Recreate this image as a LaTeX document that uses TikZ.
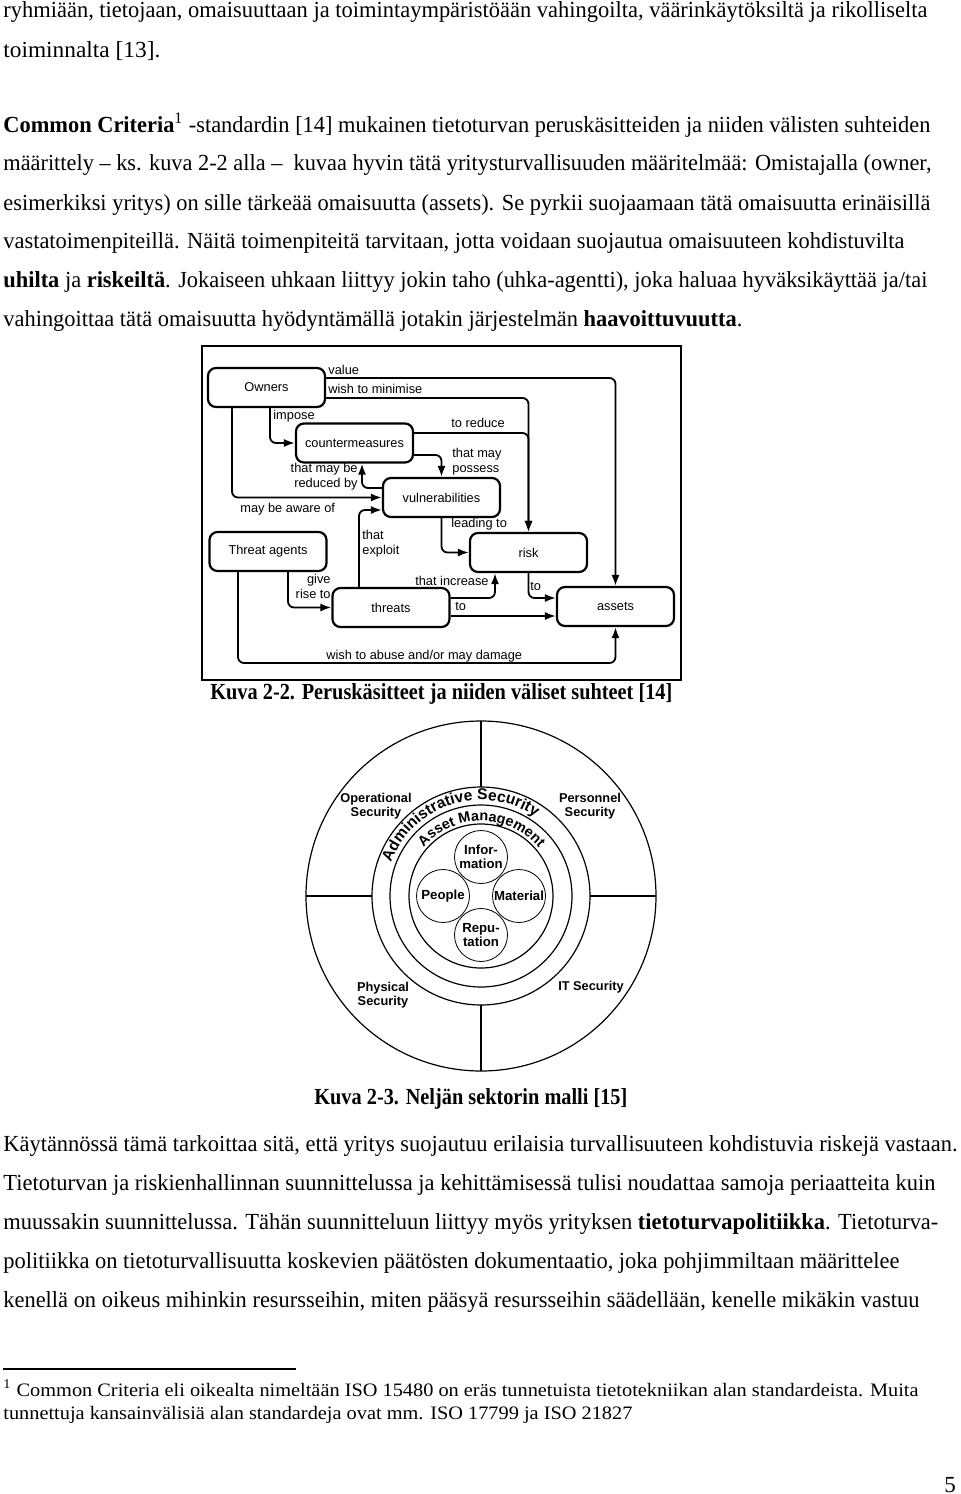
\documentclass[tikz,border=0pt]{standalone}
\usepackage{fontspec}
\setmainfont{Liberation Serif}
\setsansfont{Liberation Sans}
\usetikzlibrary{arrows.meta,decorations.text}

\newlength{\pxu}
\setlength{\pxu}{0.5pt}
% one printed line of the page, stretched to its measured width
\newcommand{\txtline}[4]{\node[bodytxt] (#1) at (3,#2) {\resizebox{#3\pxu}{\height}{#4}};}
\newcommand{\fnline}[4]{\node[fntxt] (#1) at (3,#2) {\resizebox{#3\pxu}{\height}{#4}};}

\tikzset{
  bodytxt/.style={anchor=base west, inner sep=0pt, font=\fontsize{11.5}{13}\selectfont},
  fntxt/.style={anchor=base west, inner sep=0pt, font=\fontsize{9.5}{11}\selectfont},
  ccbox/.style={draw, line width=1.1pt, rounded corners=4pt, minimum width=58.5pt,
    minimum height=19.5pt, inner sep=0pt, font=\sffamily\fontsize{6.4}{7.5}\selectfont},
  link/.style={line width=0.9pt, rounded corners=3pt, -{Latex[length=5.5pt,width=4pt]}},
  cclabel/.style={inner sep=0pt, font=\sffamily\fontsize{6.4}{7.5}\selectfont},
  asset/.style={circle, draw, minimum size=26.5pt, inner sep=0pt, align=center,
    font=\sffamily\bfseries\fontsize{6.6}{7}\selectfont},
  sector/.style={inner sep=0pt, align=center, font=\sffamily\bfseries\fontsize{6.4}{6.8}\selectfont}
}

\begin{document}
\begin{tikzpicture}[x=0.5pt, y=-0.5pt]
\useasboundingbox (0,0) rectangle (960,1494);
\fill[white] (0,0) rectangle (960,1494);

% text above the figures
\txtline{l1}{17}{924}{ryhmiään, tietojaan, omaisuuttaan ja toimintaympäristöään vahingoilta, väärinkäytöksiltä ja rikolliselta}
\txtline{l2}{57}{157}{toiminnalta [13].}
\txtline{l3}{132}{927}{\textbf{Common Criteria}\textsuperscript{1} -standardin [14] mukainen tietoturvan peruskäsitteiden ja niiden välisten suhteiden}
\txtline{l4}{170}{928}{määrittely – ks. kuva 2-2 alla –\ \ kuvaa hyvin tätä yritysturvallisuuden määritelmää: Omistajalla (owner,}
\txtline{l5}{210}{927}{esimerkiksi yritys) on sille tärkeää omaisuutta (assets). Se pyrkii suojaamaan tätä omaisuutta erinäisillä}
\txtline{l6}{248}{901}{vastatoimenpiteillä. Näitä toimenpiteitä tarvitaan, jotta voidaan suojautua omaisuuteen kohdistuvilta}
\txtline{l7}{287}{924}{\textbf{uhilta} ja \textbf{riskeiltä}. Jokaiseen uhkaan liittyy jokin taho (uhka-agentti), joka haluaa hyväksikäyttää ja/tai}
\txtline{l8}{326}{739}{vahingoittaa tätä omaisuutta hyödyntämällä jotakin järjestelmän \textbf{haavoittuvuutta}.}

% Kuva 2-2
\draw[line width=1pt] (202,346) rectangle (681,680);
\node[ccbox] (own) at (266.5,387.5) {Owners};
\node[ccbox] (cm) at (354.5,443) {countermeasures};
\node[ccbox] (vul) at (441.5,497.5) {vulnerabilities};
\node[ccbox] (risk) at (528.5,552.5) {risk};
\node[ccbox] (ta) at (268,551.5) {Threat agents};
\node[ccbox] (thr) at (391,607.5) {threats};
\node[ccbox] (ast) at (615.5,606.5) {assets};

\draw[link] (own.east |- 0,378) -| (ast.north);
\draw[link] (own.east |- 0,398) -| (risk.north);
\draw[link] (cm.east |- 0,433) -| (risk.north);
\draw[link] (own.south -| 270,0) |- (cm.west);
\draw[link] (own.south -| 232,0) |- (vul.west);
\draw[link] (cm.east |- 0,455) -| (vul.north);
\draw[link] (vul.west |- 0,488) -| (cm.south -| 362,0);
\draw[link] (thr.north -| 359,0) |- (vul.west |- 0,510);
\draw[link] (vul.south) |- (risk.west);
\draw[link] (ta.south -| 288,0) |- (thr.west);
\draw[link] (ta.south -| 238,0) |- (ast.south |- 0,663) -- (ast.south);
\draw[link] (thr.east |- 0,598) -| (risk.south -| 495,0);
\draw[link] (thr.east |- 0,616) -- (ast.west |- 0,616);
\draw[link] (risk.south) |- (ast.west |- 0,598);

\node[cclabel, anchor=west] (lvalue) at (328,370) {value};
\node[cclabel, anchor=west] (lminimise) at (328,389) {wish to minimise};
\node[cclabel, anchor=west] (limpose) at (273,416) {impose};
\node[cclabel, anchor=west] (lreduce) at (451,423) {to reduce};
\node[cclabel, anchor=west, align=left] (lpossess) at (452,462) {that may\\possess};
\node[cclabel, anchor=east, align=right] (lreduced) at (358,477) {that may be\\reduced by};
\node[cclabel, anchor=west] (laware) at (240,509) {may be aware of};
\node[cclabel, anchor=west] (lleading) at (451,524) {leading to};
\node[cclabel, anchor=west, align=left] (lexploit) at (362,544) {that\\exploit};
\node[cclabel, anchor=east, align=right] (lrise) at (331,586) {give\\rise to};
\node[cclabel, anchor=east] (lincrease) at (489,581) {that increase};
\node[cclabel, anchor=west] (lto) at (455,606) {to};
\node[cclabel, anchor=west] (lrisk) at (530,586) {to};
\node[cclabel, anchor=west] (labuse) at (326,656) {wish to abuse and/or may damage};

\node[bodytxt] (cap1) at (210,699) {\resizebox{462\pxu}{\height}{\textbf{Kuva 2-2. Peruskäsitteet ja niiden väliset suhteet [14]}}};

% Kuva 2-3
\coordinate (mid) at (481,896);
\draw[line width=0.6pt] (mid) circle[radius=175];
\draw[line width=0.6pt] (mid) circle[radius=109];
\draw[line width=0.6pt] (mid) circle[radius=91];
\draw[line width=0.6pt] (mid) circle[radius=72];
\draw[line width=0.6pt] (481,787) -- (481,721);
\draw[line width=0.6pt] (481,1005) -- (481,1071);
\draw[line width=0.6pt] (372,896) -- (306,896);
\draw[line width=0.6pt] (590,896) -- (656,896);

\path[decorate, decoration={text along path, text align=center,
  text={|\sffamily\bfseries\fontsize{7.8}{9}\selectfont|Administrative Security}}]
  (mid) ++(-172:96) arc[start angle=-172, end angle=-43, radius=96];
\path[decorate, decoration={text along path, text align=center,
  text={|\sffamily\bfseries\fontsize{7.2}{9}\selectfont|Asset Management}}]
  (mid) ++(-155:75) arc[start angle=-155, end angle=-24, radius=75];

\node[asset] (info) at (481,857) {Infor-\\mation};
\node[asset] (ppl) at (443,896) {People};
\node[asset] (mat) at (519,896) {Material};
\node[asset] (rep) at (481,935) {Repu-\\tation};

\node[sector] (ops) at (376,806) {Operational\\Security};
\node[sector] (pers) at (590,806) {Personnel\\Security};
\node[sector] (phys) at (383,995) {Physical\\Security};
\node[sector] (its) at (591,987) {IT Security};

\node[bodytxt] (cap2) at (314,1104) {\resizebox{313\pxu}{\height}{\textbf{Kuva 2-3. Neljän sektorin malli [15]}}};

% text below the figures
\txtline{l9}{1151}{954}{Käytännössä tämä tarkoittaa sitä, että yritys suojautuu erilaisia turvallisuuteen kohdistuvia riskejä vastaan.}
\txtline{l10}{1190}{932}{Tietoturvan ja riskienhallinnan suunnittelussa ja kehittämisessä tulisi noudattaa samoja periaatteita kuin}
\txtline{l11}{1229}{935}{muussakin suunnittelussa. Tähän suunnitteluun liittyy myös yrityksen \textbf{tietoturvapolitiikka}. Tietoturva-}
\txtline{l12}{1268}{896}{politiikka on tietoturvallisuutta koskevien päätösten dokumentaatio, joka pohjimmiltaan määrittelee}
\txtline{l13}{1307}{916}{kenellä on oikeus mihinkin resursseihin, miten pääsyä resursseihin säädellään, kenelle mikäkin vastuu}

% footnote
\draw[line width=0.6pt] (3,1369) -- (296,1369);
\fnline{f1}{1396}{915}{\textsuperscript{1} Common Criteria eli oikealta nimeltään ISO 15480 on eräs tunnetuista tietotekniikan alan standardeista. Muita}
\fnline{f2}{1419}{629}{tunnettuja kansainvälisiä alan standardeja ovat mm. ISO 17799 ja ISO 21827}

\node[bodytxt] (pnum) at (944,1492) {5};
\end{tikzpicture}
\end{document}
